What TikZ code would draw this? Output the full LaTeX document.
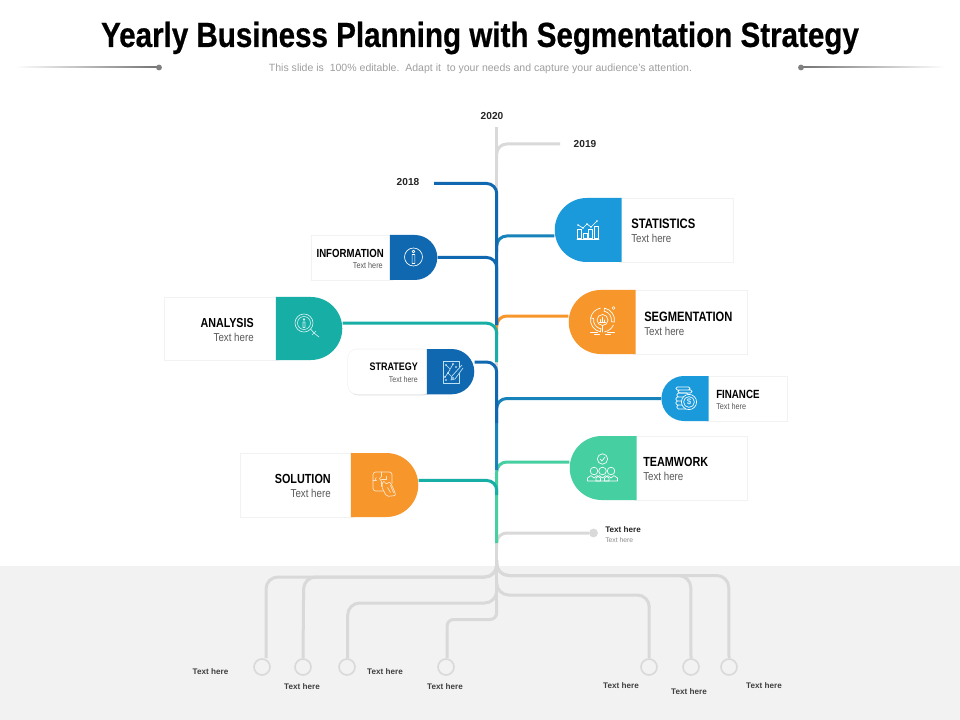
\documentclass[tikz,border=0pt]{standalone}
\usepackage{fontspec}
\setmainfont{Liberation Sans}
\newfontfamily\cond{Liberation Sans}[FakeStretch=0.82]
\newfontfamily\condl{Liberation Sans}[FakeStretch=0.85]
\newfontfamily\headf{Liberation Sans}[FakeStretch=0.85,FakeBold=0.6]
\usetikzlibrary{shapes.misc,shadows,backgrounds}
\definecolor{cgray}{HTML}{D9D9D9}
\definecolor{cband}{HTML}{F2F2F2}
\definecolor{cdark}{HTML}{0F68B0}
\definecolor{clight}{HTML}{1B9ADB}
\definecolor{cteal}{HTML}{17AEA6}
\definecolor{corange}{HTML}{F7972B}
\definecolor{cgreen}{HTML}{46CFA0}
\definecolor{csub}{HTML}{595959}
\newcommand{\fsz}[1]{\fontsize{#1pt}{#1pt}\selectfont}
\tikzset{
  cardbox/.style={draw=black!5,line width=.4pt,fill=white,inner sep=0pt,rectangle,
    drop shadow={shadow xshift=.8pt,shadow yshift=-.8pt,opacity=.14,fill=black}},
  dright/.style={rounded rectangle,rounded rectangle left arc=none,fill=#1,draw=none,inner sep=0pt,anchor=west},
  dleft/.style={rounded rectangle,rounded rectangle right arc=none,fill=#1,draw=none,inner sep=0pt,anchor=east},
  conn/.style={line width=2.25pt,rounded corners=7.5pt},
  lead/.style={line width=2.25pt,rounded corners=9pt,cgray},
  endring/.style={circle,draw=cgray,line width=1.2pt,fill=cband,minimum size=12pt,inner sep=0pt},
  ttl/.style={inner sep=0pt,text=black,font=\cond\bfseries\fsz{#1}},
  sbt/.style={inner sep=0pt,text=csub,font=\condl\fsz{#1}},
  yearlbl/.style={inner sep=0pt,text=black!85,font=\bfseries\fsz{7.6}},
  botlbl/.style={inner sep=0pt,text=black!75,font=\bfseries\fsz{6.1}},
  ico/.style={draw=white,line width=.5pt,line cap=round,line join=round},
}
\newcommand{\cardnode}[6]{\node[#2,minimum width={(#5-#3)*.75pt},minimum height={(#6-#4)*.75pt}] (#1) at ({(#3+#5)/2},{(#4+#6)/2}) {};}
\newcommand{\dr}[6]{\node[dright=#2,minimum width={(#5-#3)*.75pt},minimum height={(#6-#4)*.75pt}] (#1) at (#3,{(#4+#6)/2}) {};}
\newcommand{\dl}[6]{\node[dleft=#2,minimum width={(#5-#3)*.75pt},minimum height={(#6-#4)*.75pt}] (#1) at (#5,{(#4+#6)/2}) {};}
\begin{document}
\begin{tikzpicture}[x=.75pt,y=-.75pt]
\useasboundingbox (0,0) rectangle (960,720);
% title
\node[inner sep=0pt,font=\headf\bfseries\fsz{26.1}] (title) at (480,38) {Yearly Business Planning with Segmentation Strategy};
\node[inner sep=0pt,text=black!38,font=\fsz{7.9}] (subtitle) at (480.5,68.5) {This slide is\ \ 100\% editable.\ \ Adapt it\ \ to your needs and capture your audience's attention.};
\shade[left color=white,right color=black!55] (15,67) rectangle (159,68);
\shade[right color=white,left color=black!55] (801,67) rectangle (945,68);
\node[circle,fill=black!50,minimum size=4.4pt,inner sep=0pt] (dotL) at (159,67.5) {};
\node[circle,fill=black!50,minimum size=4.4pt,inner sep=0pt] (dotR) at (801,67.5) {};
% year labels
\node[yearlbl] (y2020) at (492,116) {2020};
\node[yearlbl] (y2019) at (585,144) {2019};
\node[yearlbl] (y2018) at (408,182.5) {2018};
% cards left
\cardnode{infoC}{cardbox}{311}{235}{392}{280}
\dr{info}{cdark}{389.7}{235}{437}{280}
\cardnode{anaC}{cardbox}{164}{297}{278}{360}
\dr{ana}{cteal}{275.5}{297}{342}{360}
\cardnode{straC}{cardbox,rounded corners=7pt}{347.7}{349}{432}{394.3}
\dr{stra}{cdark}{426.5}{349}{474}{394.3}
\cardnode{soluC}{cardbox}{240}{453}{353}{517}
\dr{solu}{corange}{350.5}{453}{418}{517}
% cards right
\cardnode{statC}{cardbox}{619}{198}{733}{262}
\dl{stat}{clight}{555}{198}{622}{262}
\cardnode{segC}{cardbox}{633}{290}{747}{354}
\dl{seg}{corange}{569}{290}{636}{354}
\cardnode{finC}{cardbox}{706}{376}{787}{421}
\dl{fin}{clight}{661.7}{376}{709}{421}
\cardnode{teamC}{cardbox}{634}{436}{747}{500}
\dl{team}{cgreen}{570}{436}{637}{500}
% card text
\node[ttl=8.8,anchor=east] (infoT) at (384,253) {INFORMATION};
\node[sbt=6.4,anchor=east] (infoS) at (383,265.5) {Text here};
\node[ttl=9.8,anchor=east] (anaT) at (254,323) {ANALYSIS};
\node[sbt=8.6,anchor=east] (anaS) at (254,337) {Text here};
\node[ttl=8.2,anchor=east] (straT) at (418,367) {STRATEGY};
\node[sbt=6.2,anchor=east] (straS) at (418,379.5) {Text here};
\node[ttl=9.9,anchor=east] (soluT) at (331,479) {SOLUTION};
\node[sbt=8.6,anchor=east] (soluS) at (331,493) {Text here};
\node[ttl=10.3,anchor=west] (statT) at (631,224) {STATISTICS};
\node[sbt=8.6,anchor=west] (statS) at (631,238) {Text here};
\node[ttl=10.2,anchor=west] (segT) at (644,317) {SEGMENTATION};
\node[sbt=8.6,anchor=west] (segS) at (644,331) {Text here};
\node[ttl=8.9,anchor=west] (finT) at (716,394.5) {FINANCE};
\node[sbt=6.4,anchor=west] (finS) at (716,406.5) {Text here};
\node[ttl=9.9,anchor=west] (teamT) at (643,462) {TEAMWORK};
\node[sbt=8.6,anchor=west] (teamS) at (643,476) {Text here};
% small item
\node[circle,fill=cgray,minimum size=6.6pt,inner sep=0pt] (pt) at (593.5,533) {};
\node[inner sep=0pt,anchor=west,text=black!85,font=\bfseries\fsz{6.1}] (ptT) at (605,530) {Text here};
\node[inner sep=0pt,anchor=west,text=black!45,font=\fsz{5.1}] (ptS) at (605,540) {Text here};
% bottom rings and labels
\node[endring] (b1) at (262,667) {};
\node[endring] (b2) at (303,667) {};
\node[endring] (b3) at (347,667) {};
\node[endring] (b4) at (446,667) {};
\node[endring] (b5) at (649,667) {};
\node[endring] (b6) at (691,667) {};
\node[endring] (b7) at (729,667) {};
\node[botlbl] (l1) at (210.5,672) {Text here};
\node[botlbl] (l2) at (302,687) {Text here};
\node[botlbl] (l3) at (385,672) {Text here};
\node[botlbl] (l4) at (445,687) {Text here};
\node[botlbl] (l5) at (621,686) {Text here};
\node[botlbl] (l6) at (689,692) {Text here};
\node[botlbl] (l7) at (764,686) {Text here};
% trunk coordinates
\coordinate (tTop) at (496.7,127);
\coordinate (tEnd) at (496.7,612);
\coordinate (s18) at (434,183.5);  \coordinate (t18) at (496.7,325);
\coordinate (s19) at (560,144);    \coordinate (t19) at (496.7,170);
\coordinate (tStat) at (496.7,252);
\coordinate (tInfo) at (496.7,325);
\coordinate (tSeg) at (496.7,335);
\coordinate (tAna) at (496.7,362);
\coordinate (tStra) at (496.7,423);
\coordinate (tFin) at (496.7,470);
\coordinate (tTeam) at (496.7,543);
\coordinate (tSolu) at (496.7,495);
\coordinate (tPt) at (496.7,548);
\coordinate (o1) at (496.7,560); \coordinate (e1) at (266,577);
\coordinate (o2) at (496.7,560); \coordinate (e2) at (303.7,577);
\coordinate (o3) at (496.7,585); \coordinate (e3) at (347.7,603);
\coordinate (o4) at (496.7,600); \coordinate (e4) at (447,619.5);
\coordinate (o5) at (496.7,580); \coordinate (e5) at (649.3,595);
\coordinate (o6) at (496.7,560); \coordinate (e6) at (690.7,575.5);
\coordinate (o7) at (496.7,560); \coordinate (e7) at (728.7,575.5);
\begin{scope}[on background layer]
  \fill[white] (0,0) rectangle (960,720);
  \fill[cband] (0,566) rectangle (960,720);
  % bottom leads
  \draw[lead] (o1) |- (e1) -- ([xshift=3pt]b1.north);
  \draw[lead] (o2) |- (e2) -- (b2.north);
  \draw[lead] (o3) |- (e3) -- ([xshift=.5pt]b3.north);
  \draw[lead,rounded corners=5pt] (o4) |- (e4) -- ([xshift=.75pt]b4.north);
  \draw[lead] (o5) |- (e5) -- (b5.north);
  \draw[lead] (o6) |- (e6) -- (b6.north);
  \draw[lead] (o7) |- (e7) -- (b7.north);
  % trunk
  \draw[line width=2.25pt,cgray] (tTop) -- (tEnd);
  \draw[conn,cgray] (s19) -| (t19);
  \draw[conn,cgray] (pt.west) -| (tPt);
  % coloured connectors
  \draw[conn,cgreen] ([yshift=4.5pt]team.west) -| (tTeam);
  \draw[conn,cteal] ([yshift=3.4pt]solu.east) -| (tSolu);
  \draw[conn,clight!85!black] (fin.west) -| (tFin);
  \draw[conn,corange] ([yshift=4.5pt]seg.west) -| (tSeg);
  \draw[conn,cteal] ([yshift=4pt]ana.east) -| (tAna);
  \draw[conn,cdark] ([yshift=7.2pt]stra.east) -| (tStra);
  \draw[conn,clight!85!black] ([yshift=-4.5pt]stat.west) -| (tStat);
  \draw[conn,cdark] (info.east) -| (tInfo);
  \draw[conn,cdark] (s18) -| (t18);
\end{scope}
% icons
% statistics
\begin{scope}[shift={(588,230)},ico]
  \draw (-11,9.5) -- (11,9.5);
  \foreach \a/\b in {-10.5/-1,-5/3,0.5/-1,6/-4}{\draw (\a,8) rectangle (\a+4,\b);}
  \draw (-10,-5) -- (-5,-2) -- (-1,-6) -- (3,-3) -- (9,-9);
  \foreach \a/\b in {-10/-5,-5/-2,-1/-6,3/-3,9/-9}{\fill[white] (\a,\b) circle (.9);}
\end{scope}
% segmentation
\begin{scope}[shift={(602.5,320)},ico]
  \draw (0,0) circle (5.5);
  \draw (-1.8,2.5) -- (-1.8,-.5) (0,2.5) -- (0,-2.8) (1.8,2.5) -- (1.8,0) (-3,2.5) -- (3,2.5);
  \draw (100:12) arc (100:190:12) (100:9) arc (100:190:9);
  \draw (100:12) -- (100:9) (190:12) -- (190:9);
  \draw (-80:12) arc (-80:10:12) (-80:9) arc (-80:10:9);
  \draw (-80:12) -- (-80:9) (10:12) -- (10:9);
  \draw (-100:12) arc (-100:-170:12);
  \draw (25:12) arc (25:80:12);
  \draw (-12,12) -- (-5,12) (5,12) -- (12,12) (-8,14) -- (-3,14) (3,14) -- (8,14);
  \draw (0,6) -- (0,12) (11,-12) circle (1.5);
\end{scope}
% finance
\begin{scope}[shift={(688,399)},ico]
  \draw[rounded corners=1pt] (-12,-12) rectangle (2,-9) (-10,-9) rectangle (4,-6);
  \draw[rounded corners=1pt] (-11,-6) rectangle (0,-2) (-12,-2) rectangle (-2,2) (-12,2) rectangle (-2,6) (-11,6) rectangle (0,10);
  \fill[clight] (1,3) circle (7.6);
  \draw (1,3) circle (7.6) (1,3) circle (5.4);
  \node[inner sep=0pt,text=white,font=\fsz{6}] (finD) at (1,3) {\$};
\end{scope}
% teamwork
\begin{scope}[shift={(602.5,472)},ico]
  \draw (0,-13) circle (5.2);
  \draw (-2.4,-13) -- (-.6,-11) -- (2.6,-15);
  \foreach \x in {-8.5,8.5,0}{
    \fill[cgreen] (\x,-1) circle (3.8);
    \draw (\x,-1) circle (3.8);
    \draw (\x-6.5,9) -- (\x-6.5,6) -- (\x-3,3.6) -- (\x,6) -- (\x+3,3.6) -- (\x+6.5,6) -- (\x+6.5,9) -- cycle;
  }
\end{scope}
% information
\begin{scope}[shift={(413.5,257)},ico]
  \draw (0,0) circle (9);
  \draw (-1.4,-2.5) rectangle (1.4,6.5) (0,-5.5) circle (1.3);
\end{scope}
% analysis
\begin{scope}[shift={(306,324)},ico,draw=white!80!cteal]
  \draw (-2,-1) circle (9) (-2,-1) circle (6.5);
  \draw (-3,-2) rectangle (-1,3.5) (-2,-4.5) circle (.9);
  \draw (4.5,5) -- (8,9) -- (13,13) (8,9) -- (6,11) (8,9) -- (10,7);
\end{scope}
% strategy
\begin{scope}[shift={(451,372)},ico,draw=white!70!clight]
  \draw (-8,-11) rectangle (8,11);
  \draw (-5,-7) -- (-1,-3) (2,-8) -- (-3,1) -- (2,6) (-6,5) -- (-3,1);
  \fill[cdark] (11,-7) -- (1,4) -- (0,8) -- (4,7) -- (12,-4) -- cycle;
  \draw (11,-7) -- (1,4) -- (0,8) -- (4,7) -- (12,-4);
  \foreach \a/\b in {-5/-7,2/-8,-6/5,-3/1,-5/8,5/-5,2/6}{\fill[white] (\a,\b) circle (.8);}
\end{scope}
% solution
\begin{scope}[shift={(382.5,481.5)},ico,draw=white!75!corange]
  \draw[rounded corners=2pt] (3,9.5) -- (-9.5,9.5) -- (-9.5,-9.5) -- (9.5,-9.5) -- (9.5,2);
  \draw (-9.5,-1) -- (-6,-1) arc (-90:90:-1.5) (-1,-9.5) -- (-1,-5) -- (-3,-3) -- (-1,0) -- (-1,5);
  \draw (-1,-2) -- (4,-2) -- (4,-5);
  \draw[rounded corners=1.5pt,fill=corange] (-1,5) -- (1,-1) -- (4,3) -- (7,0) -- (10,5) -- (13.5,14) -- (4,15) -- cycle;
  \draw (5,6) -- (8,11) (8,4) -- (11,11);
\end{scope}
\end{tikzpicture}
\end{document}
